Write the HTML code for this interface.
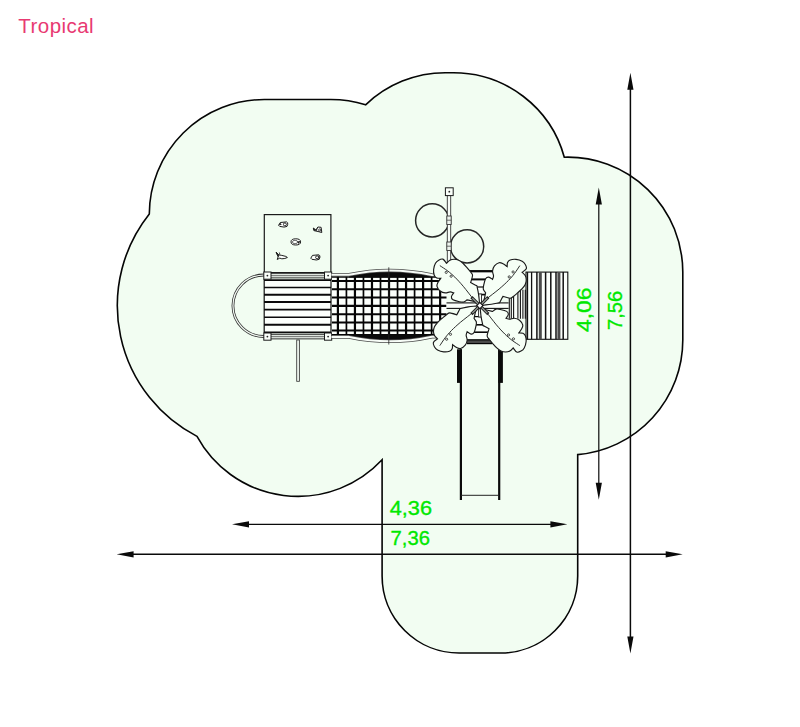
<!DOCTYPE html>
<html lang="en">
<head>
<meta charset="utf-8">
<title>Tropical</title>
<style>
html,body{margin:0;padding:0;background:#fff;}
body{width:800px;height:727px;position:relative;overflow:hidden;font-family:"Liberation Sans",Arial,sans-serif;}
.title{position:absolute;left:18.3px;top:14px;font-size:20.5px;line-height:24px;color:#e83a72;white-space:nowrap;letter-spacing:0.45px;}
</style>
</head>
<body>
<svg width="800" height="727" viewBox="0 0 800 727" style="position:absolute;left:0;top:0">
<path d="M264.3 99.5 L330.9 99.5 A115 115 0 0 1 365.6 104.85 A115 115 0 0 1 445.2 72.7 L453.5 72.7 A115 115 0 0 1 564.3 157.2 A115 115 0 0 1 682.8 272.1 L682.8 340 A115 115 0 0 1 577.7 454.6 L577.7 576 A77 77 0 0 1 500.7 653 L459.1 653 A77 77 0 0 1 382.1 576 L382.1 459.8 A115 115 0 0 1 197 436.4 A147.3 147.3 0 0 1 149.3 213.9 A115 115 0 0 1 264.3 99.5 Z" fill="#f2fdf2" stroke="#050505" stroke-width="1.6" stroke-linejoin="miter"/>
<rect x="264.3" y="214.6" width="66.6" height="58" fill="none" stroke="#1a1a1a" stroke-width="1.2"/>
<g transform="translate(283.2 224.4)"><path d="M-4.6 0.9 L-2.9 -1.9 L3.4 -2.5 Q4.9 -2 4.5 0 L3.8 2 L1 2.7 L-3.5 2 Z" fill="#fdfffd" stroke="#1c1c1c" stroke-width="1" stroke-linejoin="round"/><circle cx="1.7" cy="0" r="1.5" fill="none" stroke="#1c1c1c" stroke-width="0.9"/><path d="M-4.6 0.9 L-2.9 -1.9 L-1.5 0.5 Z" fill="#333"/></g>
<g transform="translate(317.5 229.6)"><path d="M-4.2 -1.6 L-1.6 0.4 L0.4 -2.6 L3.6 -2.3 L4.3 2.9 L0.5 1.9 L-3.6 1 Z" fill="#fdfffd" stroke="#1c1c1c" stroke-width="1" stroke-linejoin="round"/><path d="M-4.2 -1.6 L-1.6 0.4 L0.4 -2.6 L-0.6 1.2 L-3.6 1 Z" fill="#1c1c1c"/><circle cx="2.2" cy="0.4" r="1.1" fill="none" stroke="#1c1c1c" stroke-width="0.8"/></g>
<g transform="translate(295.8 241.9)"><path d="M-4.8 0 A4.8 3.1 0 1 1 4.8 0 A4.8 3.1 0 1 1 -4.8 0 Z" fill="#fdfffd" stroke="#1c1c1c" stroke-width="1" stroke-linejoin="round"/><ellipse cx="-0.8" cy="0.1" rx="2.6" ry="1.7" fill="none" stroke="#444" stroke-width="0.8"/><path d="M1.2 -0.4 L4.6 -0.8 L3 2.2 Z" fill="#1c1c1c"/></g>
<g transform="translate(281.8 255.9)"><path d="M-5.6 -3.6 L-3 -1 L0 -0.5 L4 0.5 L5.6 1.6 L3 2.6 L0 2.9 L-2 2.2 L-4.6 3.6 L-3.6 0.8 Z" fill="#fdfffd" stroke="#1c1c1c" stroke-width="1" stroke-linejoin="round"/><path d="M-5.6 -3.6 L-3 -1 L-3.6 0.8 Z M-2.4 -3.4 L-2 -1.4" fill="#1c1c1c" stroke="#1c1c1c" stroke-width="0.8"/></g>
<g transform="translate(315.4 257.3)"><path d="M-4.6 0.9 L-2.9 -1.9 L3.4 -2.5 Q4.9 -2 4.5 0 L3.8 2 L1 2.7 L-3.5 2 Z" fill="#fdfffd" stroke="#1c1c1c" stroke-width="1" stroke-linejoin="round"/><circle cx="1.7" cy="0" r="1.5" fill="none" stroke="#1c1c1c" stroke-width="0.9"/><path d="M3 -2.4 L4.6 0 L3.6 2 L2.6 0 Z" fill="#333"/></g>
<path d="M264 275 A31 30.7 0 0 0 264 336.5" fill="none" stroke="#333" stroke-width="2.8"/>
<path d="M264 275 A31 30.7 0 0 0 264 336.5" fill="none" stroke="#f4fbf4" stroke-width="1.2"/>
<rect x="296.7" y="340" width="2.8" height="41.3" fill="#e8efe8" stroke="#333" stroke-width="0.8"/>
<rect x="264" y="279" width="67" height="54" fill="#fbfffb"/>
<line x1="264" y1="280.1" x2="331" y2="280.1" stroke="#0a0a0a" stroke-width="1.6"/>
<line x1="264" y1="287.4" x2="331" y2="287.4" stroke="#0a0a0a" stroke-width="1.5"/>
<line x1="264" y1="294.7" x2="331" y2="294.7" stroke="#0a0a0a" stroke-width="2"/>
<line x1="264" y1="302.1" x2="331" y2="302.1" stroke="#0a0a0a" stroke-width="2"/>
<line x1="264" y1="309.6" x2="331" y2="309.6" stroke="#0a0a0a" stroke-width="1.6"/>
<line x1="264" y1="317.2" x2="331" y2="317.2" stroke="#0a0a0a" stroke-width="1.5"/>
<line x1="264" y1="324.7" x2="331" y2="324.7" stroke="#0a0a0a" stroke-width="2"/>
<line x1="264" y1="332.3" x2="331" y2="332.3" stroke="#0a0a0a" stroke-width="1.7"/>
<line x1="264.2" y1="279" x2="264.2" y2="333" stroke="#111" stroke-width="1.2"/>
<line x1="331" y1="279" x2="331" y2="333" stroke="#111" stroke-width="1.2"/>
<rect x="270" y="273.3" width="55" height="4.6" fill="#dfe6df" stroke="#222" stroke-width="0.9"/>
<line x1="270" y1="275.6" x2="325" y2="275.6" stroke="#444" stroke-width="0.7"/>
<rect x="270" y="334.3" width="55" height="4.6" fill="#dfe6df" stroke="#222" stroke-width="0.9"/>
<line x1="270" y1="336.6" x2="325" y2="336.6" stroke="#444" stroke-width="0.7"/>
<rect x="263.8" y="272" width="7.2" height="7.2" fill="#fafffa" stroke="#1a1a1a" stroke-width="1"/>
<circle cx="267.4" cy="275.6" r="0.9" fill="#222"/>
<rect x="324.5" y="272" width="7.2" height="7.2" fill="#fafffa" stroke="#1a1a1a" stroke-width="1"/>
<circle cx="328.1" cy="275.6" r="0.9" fill="#222"/>
<rect x="263.8" y="333" width="7.2" height="7.2" fill="#fafffa" stroke="#1a1a1a" stroke-width="1"/>
<circle cx="267.4" cy="336.6" r="0.9" fill="#222"/>
<rect x="324.5" y="333" width="7.2" height="7.2" fill="#fafffa" stroke="#1a1a1a" stroke-width="1"/>
<circle cx="328.1" cy="336.6" r="0.9" fill="#222"/>
<rect x="332" y="277" width="114.5" height="57.5" fill="#fbfffb"/>
<line x1="337.9" y1="276.6" x2="337.9" y2="335" stroke="#050505" stroke-width="2.2"/>
<line x1="346.42" y1="276.6" x2="346.42" y2="335" stroke="#050505" stroke-width="1.7"/>
<line x1="354.94" y1="276.6" x2="354.94" y2="335" stroke="#050505" stroke-width="2.2"/>
<line x1="363.46" y1="276.6" x2="363.46" y2="335" stroke="#050505" stroke-width="1.7"/>
<line x1="371.98" y1="276.6" x2="371.98" y2="335" stroke="#050505" stroke-width="2.2"/>
<line x1="380.5" y1="276.6" x2="380.5" y2="335" stroke="#050505" stroke-width="1.7"/>
<line x1="389.02" y1="276.6" x2="389.02" y2="335" stroke="#050505" stroke-width="2.2"/>
<line x1="397.54" y1="276.6" x2="397.54" y2="335" stroke="#050505" stroke-width="1.7"/>
<line x1="406.06" y1="276.6" x2="406.06" y2="335" stroke="#050505" stroke-width="2.2"/>
<line x1="414.58" y1="276.6" x2="414.58" y2="335" stroke="#050505" stroke-width="1.7"/>
<line x1="423.1" y1="276.6" x2="423.1" y2="335" stroke="#050505" stroke-width="2.2"/>
<line x1="431.62" y1="276.6" x2="431.62" y2="335" stroke="#050505" stroke-width="1.7"/>
<line x1="440.14" y1="276.6" x2="440.14" y2="335" stroke="#050505" stroke-width="2.2"/>
<line x1="332" y1="277" x2="446.5" y2="277" stroke="#050505" stroke-width="1.4"/>
<line x1="332" y1="281" x2="446.5" y2="281" stroke="#050505" stroke-width="2.0"/>
<line x1="332" y1="289.3" x2="446.5" y2="289.3" stroke="#050505" stroke-width="2.1"/>
<line x1="332" y1="297.6" x2="446.5" y2="297.6" stroke="#050505" stroke-width="2.0"/>
<line x1="332" y1="305.9" x2="446.5" y2="305.9" stroke="#050505" stroke-width="2.1"/>
<line x1="332" y1="314.2" x2="446.5" y2="314.2" stroke="#050505" stroke-width="2.0"/>
<line x1="332" y1="322.5" x2="446.5" y2="322.5" stroke="#050505" stroke-width="2.1"/>
<line x1="332" y1="330.6" x2="446.5" y2="330.6" stroke="#050505" stroke-width="2.0"/>
<line x1="332" y1="334.6" x2="446.5" y2="334.6" stroke="#050505" stroke-width="1.4"/>
<path d="M349 277.4 L349 276 A198 198 0 0 1 432 276 L432 277.4 Z" fill="#0a0a0a"/>
<path d="M349 334.2 L349 335.7 A198 198 0 0 0 432 335.7 L432 334.2 Z" fill="#0a0a0a"/>
<path d="M331.5 274.7 L349 274.7 A198 198 0 0 1 432 275 L447 275.3" fill="none" stroke="#4a4a4a" stroke-width="3.5"/>
<path d="M331.5 274.7 L349 274.7 A198 198 0 0 1 432 275 L447 275.3" fill="none" stroke="#f8fdf8" stroke-width="2"/>
<path d="M331.5 337 L349 337 A198 198 0 0 0 432 336.7 L447 336.4" fill="none" stroke="#4a4a4a" stroke-width="3.5"/>
<path d="M331.5 337 L349 337 A198 198 0 0 0 432 336.7 L447 336.4" fill="none" stroke="#f8fdf8" stroke-width="2"/>
<line x1="388.8" y1="267.3" x2="388.8" y2="344.5" stroke="#222" stroke-width="0.8"/>
<rect x="467" y="270" width="26" height="74" fill="#fbfffb"/>
<line x1="467" y1="271.2" x2="493" y2="271.2" stroke="#0a0a0a" stroke-width="2.3"/>
<line x1="467" y1="279.4" x2="493" y2="279.4" stroke="#0a0a0a" stroke-width="2"/>
<line x1="467" y1="287" x2="493" y2="287" stroke="#0a0a0a" stroke-width="1.2"/>
<line x1="467" y1="294.6" x2="493" y2="294.6" stroke="#0a0a0a" stroke-width="1.7"/>
<line x1="467" y1="316.6" x2="493" y2="316.6" stroke="#0a0a0a" stroke-width="1.2"/>
<line x1="467" y1="324.8" x2="493" y2="324.8" stroke="#0a0a0a" stroke-width="1.6"/>
<line x1="467" y1="332.2" x2="493" y2="332.2" stroke="#0a0a0a" stroke-width="1.6"/>
<rect x="467" y="339.4" width="25" height="4.6" fill="#4a4a4a"/>
<line x1="467" y1="339.9" x2="492" y2="339.9" stroke="#050505" stroke-width="1.2"/>
<line x1="467" y1="343.6" x2="492" y2="343.6" stroke="#050505" stroke-width="1.2"/>
<rect x="446.5" y="302.6" width="30" height="6" fill="#fbfffb"/>
<line x1="446.5" y1="302.9" x2="476" y2="302.9" stroke="#111" stroke-width="1.1"/>
<line x1="446.5" y1="308.4" x2="476" y2="308.4" stroke="#111" stroke-width="1.1"/>
<rect x="484" y="302.6" width="26" height="6" fill="#fbfffb"/>
<line x1="484" y1="302.9" x2="510" y2="302.9" stroke="#111" stroke-width="1.1"/>
<line x1="484" y1="308.4" x2="510" y2="308.4" stroke="#111" stroke-width="1.1"/>
<rect x="478.6" y="294" width="2.9" height="23" fill="#fbfffb" stroke="#222" stroke-width="0.9"/>
<rect x="508.6" y="289.7" width="18" height="29" fill="#fbfffb"/>
<line x1="509.3" y1="289.7" x2="509.3" y2="318.8" stroke="#111" stroke-width="1.1"/>
<line x1="511.3" y1="289.7" x2="511.3" y2="318.8" stroke="#111" stroke-width="1.1"/>
<line x1="513.6" y1="289.7" x2="513.6" y2="318.8" stroke="#111" stroke-width="1.1"/>
<line x1="517.9" y1="289.7" x2="517.9" y2="318.8" stroke="#111" stroke-width="1.1"/>
<line x1="520.4" y1="289.7" x2="520.4" y2="318.8" stroke="#111" stroke-width="1.1"/>
<line x1="522.9" y1="289.7" x2="522.9" y2="318.8" stroke="#111" stroke-width="1.1"/>
<line x1="525.3" y1="289.7" x2="525.3" y2="318.8" stroke="#111" stroke-width="1.1"/>
<rect x="526" y="272.1" width="41.8" height="67.2" fill="#fbfffb" stroke="#111" stroke-width="1.1"/>
<line x1="527.5" y1="272.1" x2="527.5" y2="339.3" stroke="#111" stroke-width="1.3"/>
<line x1="531.6" y1="272.1" x2="531.6" y2="339.3" stroke="#111" stroke-width="1.3"/>
<line x1="536.9" y1="272.1" x2="536.9" y2="339.3" stroke="#111" stroke-width="1.5"/>
<line x1="540.3" y1="272.1" x2="540.3" y2="339.3" stroke="#4a4a4a" stroke-width="3"/>
<line x1="545.6" y1="272.1" x2="545.6" y2="339.3" stroke="#111" stroke-width="1.5"/>
<line x1="550.8" y1="272.1" x2="550.8" y2="339.3" stroke="#111" stroke-width="1.5"/>
<line x1="556" y1="272.1" x2="556" y2="339.3" stroke="#111" stroke-width="1.5"/>
<line x1="558.9" y1="272.1" x2="558.9" y2="339.3" stroke="#4a4a4a" stroke-width="3"/>
<line x1="563.2" y1="272.1" x2="563.2" y2="339.3" stroke="#111" stroke-width="1.5"/>
<rect x="457" y="349.3" width="5" height="33.6" fill="#0a0a0a"/>
<rect x="498.3" y="349.3" width="4.6" height="33.6" fill="#0a0a0a"/>
<rect x="459.8" y="349.3" width="2.2" height="150.7" fill="#0a0a0a"/>
<rect x="498.1" y="349.3" width="2.2" height="150.7" fill="#0a0a0a"/>
<line x1="461" y1="495.3" x2="499" y2="495.3" stroke="#222" stroke-width="1"/>
<circle cx="432.2" cy="220.4" r="16.6" fill="none" stroke="#262626" stroke-width="1.5"/>
<circle cx="467.1" cy="246.4" r="16.6" fill="none" stroke="#262626" stroke-width="1.5"/>
<rect x="447.3" y="195" width="3.4" height="70" fill="#f7fcf7" stroke="#333" stroke-width="0.9"/>
<rect x="446.8" y="216" width="4.4" height="8.5" fill="#eef4ee" stroke="#333" stroke-width="0.9"/>
<line x1="446.8" y1="220.2" x2="451.2" y2="220.2" stroke="#333" stroke-width="0.7"/>
<rect x="446.8" y="242" width="4.4" height="8.5" fill="#eef4ee" stroke="#333" stroke-width="0.9"/>
<line x1="446.8" y1="246.2" x2="451.2" y2="246.2" stroke="#333" stroke-width="0.7"/>
<rect x="445.4" y="187.8" width="7.8" height="7.8" fill="#fafffa" stroke="#1a1a1a" stroke-width="1"/>
<circle cx="449.3" cy="191.7" r="0.9" fill="#222"/>
<path d="M479.85 305.6 C480.21 305.13 481.3 303.74 482 302.75 C482.71 301.77 483.48 301.34 484.08 299.68 C484.68 298.01 485.36 293.91 485.62 292.75 C485.25 292.2 483.71 290.7 483.39 289.45 C483.07 288.19 483.32 287 483.7 285.22 C484.07 283.43 484.79 280.1 485.62 278.75 C486.45 277.41 487.54 277.02 488.7 277.14 C489.85 277.25 491.9 279.06 492.54 279.45 C492.71 278.87 493.54 277.39 493.54 275.98 C493.54 274.57 492.39 272.65 492.54 270.98 C492.7 269.32 493.38 267.36 494.47 265.98 C495.56 264.61 497.64 263.13 499.08 262.75 C500.52 262.38 501.73 263.11 503.08 263.75 C504.43 264.39 506.48 266.13 507.16 266.6 C507.22 265.92 507.03 263.63 507.54 262.52 C508.06 261.42 508.82 260.51 510.23 259.98 C511.64 259.46 514.02 259.16 516 259.37 C517.99 259.57 520.61 260.37 522.16 261.22 C523.71 262.06 524.62 263.2 525.31 264.45 C526 265.69 526.84 267.37 526.31 268.68 C525.79 269.98 522.85 271.69 522.16 272.29 C522.67 272.84 524.56 274.34 525.23 275.6 C525.91 276.86 526.23 278.36 526.23 279.83 C526.23 281.31 525.91 282.97 525.23 284.45 C524.56 285.92 523.44 287.27 522.16 288.68 C520.88 290.09 519.08 291.56 517.54 292.91 C516 294.25 514.21 295.86 512.93 296.75 C511.64 297.65 511.52 298.36 509.85 298.29 C508.18 298.23 504.08 296.69 502.93 296.37 C502.57 297.05 501.31 299.41 500.77 300.45 C500.23 301.48 499.88 302.24 499.7 302.6 C498.31 302.88 494.06 303.87 491.39 304.29 C488.72 304.72 485.62 304.92 483.7 305.14 C481.77 305.36 480.49 305.52 479.85 305.6 Z" fill="#f6fff6" stroke="#1a1a1a" stroke-width="1.15" stroke-linejoin="miter"/>
<path d="M479.85 305.6 C480.88 304.57 482.8 302.2 486 299.45 C489.21 296.69 495.36 292.2 499.08 289.06 C502.8 285.92 505.75 283.19 508.31 280.6 C510.88 278.01 512.54 276.02 514.47 273.52 C516.39 271.02 518.95 266.92 519.85 265.6 " fill="none" stroke="#222" stroke-width="0.95"/>
<circle cx="509.23" cy="276.91" r="1.1" fill="none" stroke="#222" stroke-width="0.8"/>
<circle cx="513.08" cy="271.98" r="1.1" fill="none" stroke="#222" stroke-width="0.8"/>
<path d="M479.85 305.6 C480.32 305.96 481.71 307.05 482.7 307.75 C483.68 308.46 484.11 309.23 485.77 309.83 C487.44 310.43 491.54 311.11 492.7 311.37 C493.25 311 494.75 309.46 496 309.14 C497.26 308.82 498.45 309.07 500.23 309.45 C502.02 309.82 505.35 310.54 506.7 311.37 C508.04 312.2 508.43 313.29 508.31 314.45 C508.2 315.6 506.39 317.65 506 318.29 C506.58 318.46 508.06 319.29 509.47 319.29 C510.88 319.29 512.8 318.14 514.47 318.29 C516.13 318.45 518.09 319.13 519.47 320.22 C520.84 321.31 522.32 323.39 522.7 324.83 C523.07 326.27 522.34 327.48 521.7 328.83 C521.06 330.18 519.32 332.23 518.85 332.91 C519.53 332.97 521.82 332.78 522.93 333.29 C524.03 333.81 524.94 334.57 525.47 335.98 C525.99 337.39 526.29 339.77 526.08 341.75 C525.88 343.74 525.08 346.36 524.23 347.91 C523.39 349.46 522.25 350.37 521 351.06 C519.76 351.75 518.08 352.59 516.77 352.06 C515.47 351.54 513.76 348.6 513.16 347.91 C512.61 348.42 511.11 350.31 509.85 350.98 C508.59 351.66 507.09 351.98 505.62 351.98 C504.14 351.98 502.48 351.66 501 350.98 C499.53 350.31 498.18 349.19 496.77 347.91 C495.36 346.63 493.89 344.83 492.54 343.29 C491.2 341.75 489.59 339.96 488.7 338.68 C487.8 337.39 487.09 337.27 487.16 335.6 C487.22 333.93 488.76 329.83 489.08 328.68 C488.4 328.32 486.04 327.06 485 326.52 C483.97 325.98 483.21 325.63 482.85 325.45 C482.57 324.06 481.58 319.81 481.16 317.14 C480.73 314.47 480.53 311.37 480.31 309.45 C480.09 307.52 479.93 306.24 479.85 305.6 Z" fill="#f6fff6" stroke="#1a1a1a" stroke-width="1.15" stroke-linejoin="miter"/>
<path d="M479.85 305.6 C480.88 306.63 483.25 308.55 486 311.75 C488.76 314.96 493.25 321.11 496.39 324.83 C499.53 328.55 502.26 331.5 504.85 334.06 C507.44 336.63 509.43 338.29 511.93 340.22 C514.43 342.14 518.53 344.7 519.85 345.6 " fill="none" stroke="#222" stroke-width="0.95"/>
<circle cx="508.54" cy="334.98" r="1.1" fill="none" stroke="#222" stroke-width="0.8"/>
<circle cx="513.47" cy="338.83" r="1.1" fill="none" stroke="#222" stroke-width="0.8"/>
<path d="M479.85 305.6 C479.49 306.07 478.4 307.46 477.7 308.45 C476.99 309.43 476.22 309.86 475.62 311.52 C475.02 313.19 474.34 317.29 474.08 318.45 C474.45 319 475.99 320.5 476.31 321.75 C476.63 323.01 476.38 324.2 476 325.98 C475.63 327.77 474.91 331.1 474.08 332.45 C473.25 333.79 472.16 334.18 471 334.06 C469.85 333.95 467.8 332.14 467.16 331.75 C466.99 332.33 466.16 333.81 466.16 335.22 C466.16 336.63 467.31 338.55 467.16 340.22 C467 341.88 466.32 343.84 465.23 345.22 C464.14 346.59 462.06 348.07 460.62 348.45 C459.18 348.82 457.97 348.09 456.62 347.45 C455.27 346.81 453.22 345.07 452.54 344.6 C452.48 345.28 452.67 347.57 452.16 348.68 C451.64 349.78 450.88 350.69 449.47 351.22 C448.06 351.74 445.68 352.04 443.7 351.83 C441.71 351.63 439.09 350.83 437.54 349.98 C435.99 349.14 435.08 348 434.39 346.75 C433.7 345.51 432.86 343.83 433.39 342.52 C433.91 341.22 436.85 339.51 437.54 338.91 C437.03 338.36 435.14 336.86 434.47 335.6 C433.79 334.34 433.47 332.84 433.47 331.37 C433.47 329.89 433.79 328.23 434.47 326.75 C435.14 325.28 436.26 323.93 437.54 322.52 C438.82 321.11 440.62 319.64 442.16 318.29 C443.7 316.95 445.49 315.34 446.77 314.45 C448.06 313.55 448.18 312.84 449.85 312.91 C451.52 312.97 455.62 314.51 456.77 314.83 C457.13 314.15 458.39 311.79 458.93 310.75 C459.47 309.72 459.82 308.96 460 308.6 C461.39 308.32 465.64 307.33 468.31 306.91 C470.98 306.48 474.08 306.28 476 306.06 C477.93 305.84 479.21 305.68 479.85 305.6 Z" fill="#f6fff6" stroke="#1a1a1a" stroke-width="1.15" stroke-linejoin="miter"/>
<path d="M479.85 305.6 C478.82 306.63 476.9 309 473.7 311.75 C470.49 314.51 464.34 319 460.62 322.14 C456.9 325.28 453.95 328.01 451.39 330.6 C448.82 333.19 447.16 335.18 445.23 337.68 C443.31 340.18 440.75 344.28 439.85 345.6 " fill="none" stroke="#222" stroke-width="0.95"/>
<circle cx="450.47" cy="334.29" r="1.1" fill="none" stroke="#222" stroke-width="0.8"/>
<circle cx="446.62" cy="339.22" r="1.1" fill="none" stroke="#222" stroke-width="0.8"/>
<path d="M479.85 305.6 C479.38 305.24 477.99 304.15 477 303.45 C476.02 302.74 475.59 301.97 473.93 301.37 C472.26 300.77 468.16 300.09 467 299.83 C466.45 300.2 464.95 301.74 463.7 302.06 C462.44 302.38 461.25 302.13 459.47 301.75 C457.68 301.38 454.35 300.66 453 299.83 C451.66 299 451.27 297.91 451.39 296.75 C451.5 295.6 453.31 293.55 453.7 292.91 C453.12 292.74 451.64 291.91 450.23 291.91 C448.82 291.91 446.9 293.06 445.23 292.91 C443.57 292.75 441.61 292.07 440.23 290.98 C438.86 289.89 437.38 287.81 437 286.37 C436.63 284.93 437.36 283.72 438 282.37 C438.64 281.02 440.38 278.97 440.85 278.29 C440.17 278.23 437.88 278.42 436.77 277.91 C435.67 277.39 434.76 276.63 434.23 275.22 C433.71 273.81 433.41 271.43 433.62 269.45 C433.82 267.46 434.62 264.84 435.47 263.29 C436.31 261.74 437.45 260.83 438.7 260.14 C439.94 259.45 441.62 258.61 442.93 259.14 C444.23 259.66 445.94 262.6 446.54 263.29 C447.09 262.78 448.59 260.89 449.85 260.22 C451.11 259.54 452.61 259.22 454.08 259.22 C455.56 259.22 457.22 259.54 458.7 260.22 C460.17 260.89 461.52 262.01 462.93 263.29 C464.34 264.57 465.81 266.37 467.16 267.91 C468.5 269.45 470.11 271.24 471 272.52 C471.9 273.81 472.61 273.93 472.54 275.6 C472.48 277.27 470.94 281.37 470.62 282.52 C471.3 282.88 473.66 284.14 474.7 284.68 C475.73 285.22 476.49 285.57 476.85 285.75 C477.13 287.14 478.12 291.39 478.54 294.06 C478.97 296.73 479.17 299.83 479.39 301.75 C479.61 303.68 479.77 304.96 479.85 305.6 Z" fill="#f6fff6" stroke="#1a1a1a" stroke-width="1.15" stroke-linejoin="miter"/>
<path d="M479.85 305.6 C478.82 304.57 476.45 302.65 473.7 299.45 C470.94 296.24 466.45 290.09 463.31 286.37 C460.17 282.65 457.44 279.7 454.85 277.14 C452.26 274.57 450.27 272.91 447.77 270.98 C445.27 269.06 441.17 266.5 439.85 265.6 " fill="none" stroke="#222" stroke-width="0.95"/>
<circle cx="451.16" cy="276.22" r="1.1" fill="none" stroke="#222" stroke-width="0.8"/>
<circle cx="446.23" cy="272.37" r="1.1" fill="none" stroke="#222" stroke-width="0.8"/>
<path d="M471.35 297.1 L488.35 314.1 M488.35 297.1 L471.35 314.1" stroke="#222" stroke-width="3"/>
<path d="M472.35 298.1 L487.35 313.1 M487.35 298.1 L472.35 313.1" stroke="#9aa09a" stroke-width="1.3"/>
<rect x="477.65" y="303.4" width="4.4" height="4.4" fill="#fff" stroke="#111" stroke-width="1.1" transform="rotate(45 479.85 305.6)"/>
<line x1="247" y1="524.35" x2="552.4" y2="524.35" stroke="#0a0a0a" stroke-width="1.3"/>
<path d="M232 524.35 L249 521.25 L249 527.45 Z M567.4 524.35 L550.4 521.25 L550.4 527.45 Z" fill="#0a0a0a"/>
<line x1="131.6" y1="554.3" x2="667.7" y2="554.3" stroke="#0a0a0a" stroke-width="1.5"/>
<path d="M116.6 554.3 L133.6 551.1999999999999 L133.6 557.4 Z M682.7 554.3 L665.7 551.1999999999999 L665.7 557.4 Z" fill="#0a0a0a"/>
<line x1="598.8" y1="202.6" x2="598.8" y2="484.8" stroke="#0a0a0a" stroke-width="1.2"/>
<path d="M598.8 187.6 L595.6999999999999 204.6 L601.9 204.6 Z M598.8 499.8 L595.6999999999999 482.8 L601.9 482.8 Z" fill="#0a0a0a"/>
<line x1="630.4" y1="87.7" x2="630.4" y2="638.6" stroke="#0a0a0a" stroke-width="1.5"/>
<path d="M630.4 72.7 L627.3 89.7 L633.5 89.7 Z M630.4 653.6 L627.3 636.6 L633.5 636.6 Z" fill="#0a0a0a"/>
<text x="389.7" y="515.2" textLength="42.4" lengthAdjust="spacingAndGlyphs" style="font-family:'Liberation Sans',Arial,sans-serif;font-size:21px;fill:#00e800;stroke:#00e800;stroke-width:0.35px">4,36</text>
<text x="390.5" y="545.3" textLength="39.4" lengthAdjust="spacingAndGlyphs" style="font-family:'Liberation Sans',Arial,sans-serif;font-size:21px;fill:#00e800;stroke:#00e800;stroke-width:0.35px">7,36</text>
<text transform="translate(591.4 332) rotate(-90)" textLength="44.4" lengthAdjust="spacingAndGlyphs" style="font-family:'Liberation Sans',Arial,sans-serif;font-size:21px;fill:#00e800;stroke:#00e800;stroke-width:0.35px">4,06</text>
<text transform="translate(621.6 329.9) rotate(-90)" textLength="39" lengthAdjust="spacingAndGlyphs" style="font-family:'Liberation Sans',Arial,sans-serif;font-size:21px;fill:#00e800;stroke:#00e800;stroke-width:0.35px">7,56</text>
</svg>
<div class="title">Tropical</div>
</body>
</html>
